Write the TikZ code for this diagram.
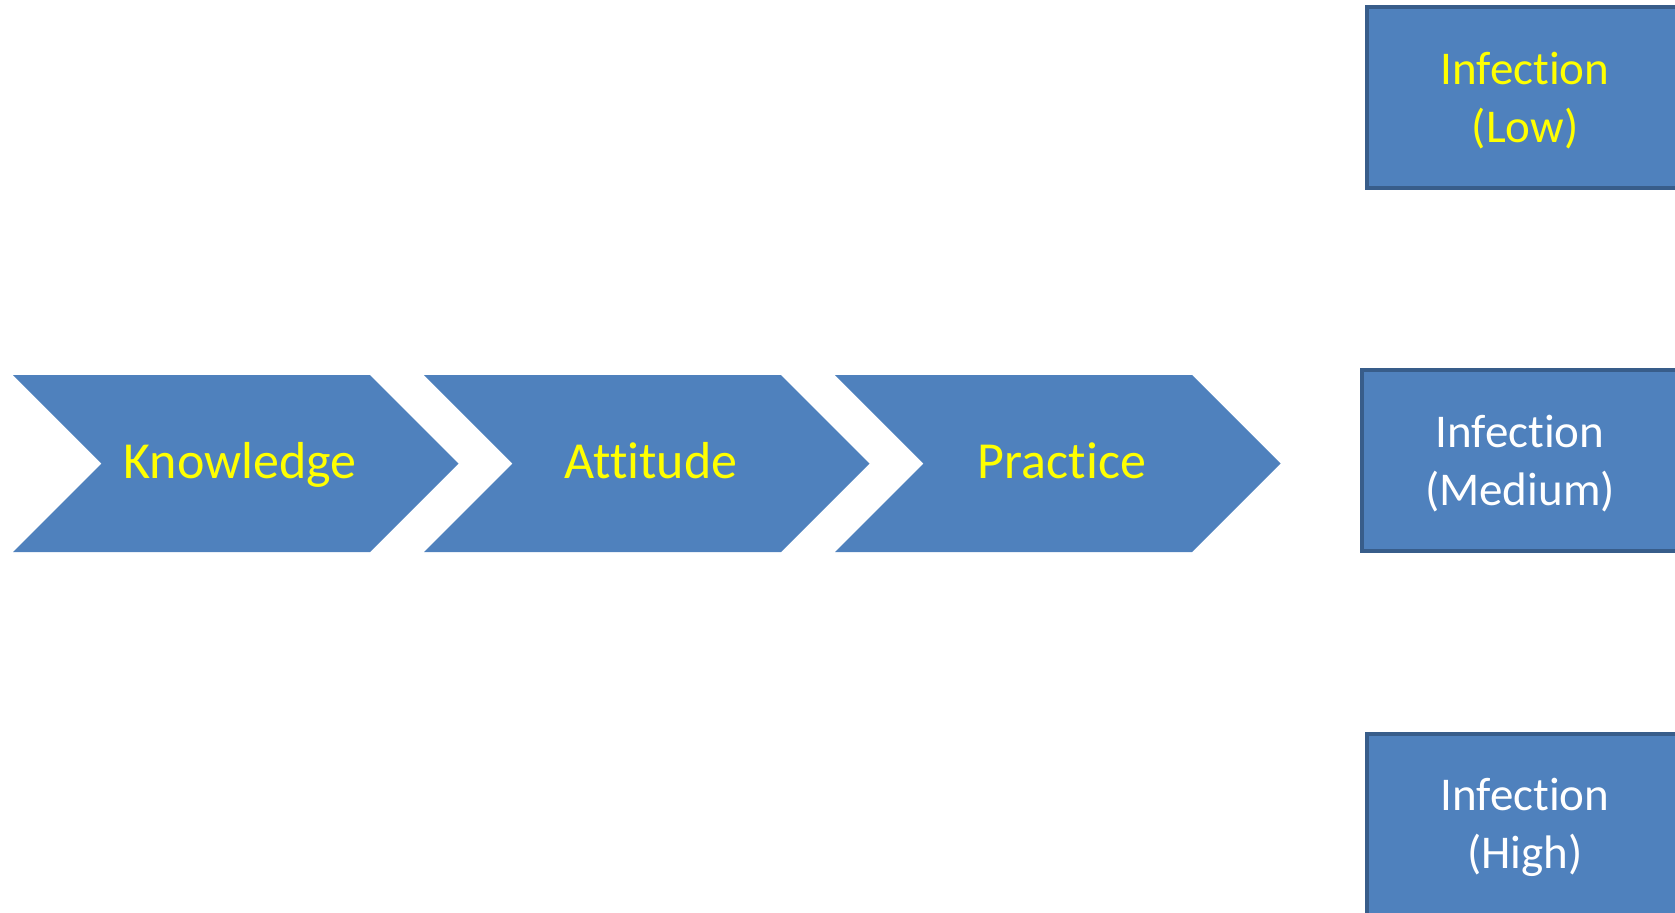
\documentclass[tikz,border=0pt]{standalone}
\usepackage{fontspec}
\setmainfont{Carlito}[Ligatures=NoCommon]
\definecolor{kapblue}{HTML}{4F81BD}
\definecolor{kapedge}{HTML}{385D8A}
\definecolor{kapyellow}{HTML}{FFFF00}

\tikzset{
	stage/.style={fill=kapblue},
	stagelabel/.style={text=kapyellow, anchor=base, inner sep=0pt, font=\fontsize{26}{31}\selectfont},
	levelbox/.style={draw=kapedge, line width=2pt, fill=kapblue, minimum width=158pt, minimum height=90.5pt,
		align=center, font=\fontsize{23.5}{29}\selectfont}
}

\begin{document}
\begin{tikzpicture}[x=0.5pt, y=-0.5pt]
	\useasboundingbox (0,0) rectangle (1675,912);
	
	% the three chevrons
	\fill[stage] (13,375) -- ++(357,0) -- ++(88.5,88.5) -- ++(-88.5,88.5) -- ++(-357,0) -- ++(88.5,-88.5) -- cycle;
	\fill[stage] (424,375) -- ++(357,0) -- ++(88.5,88.5) -- ++(-88.5,88.5) -- ++(-357,0) -- ++(88.5,-88.5) -- cycle;
	\fill[stage] (835,375) -- ++(357,0) -- ++(88.5,88.5) -- ++(-88.5,88.5) -- ++(-357,0) -- ++(88.5,-88.5) -- cycle;
	
	\node[stagelabel] (knowledge) at (240,478) {Knowledge};
	\node[stagelabel] (attitude) at (651,478) {Attitude};
	\node[stagelabel] (practice) at (1062,478) {Practice};
	
	% infection levels, cut off at the right edge
	\node[levelbox, text=kapyellow] (low) at (1525,97.5) {\rule{0pt}{19pt}Infection\\(Low)};
	\node[levelbox, text=white] (medium) at (1520,460.5) {\rule{0pt}{19pt}Infection\\(Medium)};
	\node[levelbox, text=white] (high) at (1525,824.5) {\rule{0pt}{19pt}Infection\\(High)};
\end{tikzpicture}
\end{document}
